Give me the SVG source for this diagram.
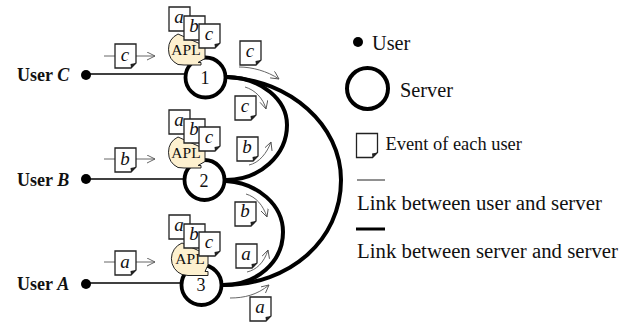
<svg xmlns="http://www.w3.org/2000/svg" xmlns:xlink="http://www.w3.org/1999/xlink" width="632" height="324" viewBox="0 0 632 324">
<style>
text{font-family:"Liberation Serif","Times New Roman",serif;fill:#111}
.thick{fill:none;stroke:#000;stroke-width:4}
.thin{fill:none;stroke:#000;stroke-width:1.6}
.flow{fill:none;stroke:#555;stroke-width:.9}
.srv{fill:#fff;stroke:#000;stroke-width:3.8}
.note{fill:#fff;stroke:#222;stroke-width:1.3}
.ltr{font-size:19px;font-style:italic;text-anchor:middle}
.usr{font-size:18px;font-weight:bold}
.num{font-size:18px;text-anchor:middle}
.apl{fill:#fdf0cf;stroke:#222;stroke-width:1}
.apt{font-size:15.500px;text-anchor:middle}
.leg{font-size:20.300px}
.lnk{font-size:20.800px}
</style>
<defs>
<path id="n" class="note" d="M0 0H21V19L16 24H0Z"/>
<path id="f" fill="#222" d="M21 19L16 24L15.500 20Z"/>
<marker id="ah" markerWidth="10" markerHeight="10" refX="8" refY="4" orient="auto" markerUnits="userSpaceOnUse"><path d="M0 0L8 4L0 8" fill="none" stroke="#555" stroke-width=".9"/></marker>
<g id="note"><use xlink:href="#n"/><use xlink:href="#f"/></g>
</defs>
<g id="connectors">
<path class="thin" d="M90 74H186"/><path class="thin" d="M90 179H184"/><path class="thin" d="M90 283H182"/>
<path class="thick" d="M227 77C262 78 287 100 287 125C287 155 260 180 226 180"/>
<path class="thick" d="M226 181C258 183 283 205 283 232C283 262 257 285 223 285"/>
<path class="thick" d="M227 77C290 80 341 125 341 180C341 240 290 285 223 285"/>
<path class="flow" marker-end="url(#ah)" d="M239 67C252 67 267 71 279 79"/>
<path class="flow" marker-end="url(#ah)" d="M245 87C255 90 263 98 266 109"/>
<path class="flow" marker-end="url(#ah)" d="M249 165C259 163 267 153 271 142"/>
<path class="flow" marker-end="url(#ah)" d="M246 194C256 197 263 205 267 217"/>
<path class="flow" marker-end="url(#ah)" d="M247 272C256 270 264 263 268 250"/>
<path class="flow" marker-end="url(#ah)" d="M230 298C244 298 257 295 269 285"/>
<path class="flow" marker-end="url(#ah)" d="M104 56H155"/>
<path class="flow" marker-end="url(#ah)" d="M104 159H155"/>
<path class="flow" marker-end="url(#ah)" d="M104 262H155"/>
</g>
<g id="userC"><circle cx="86" cy="75" r="5" fill="#000"/><text class="usr" x="17" y="80.500">User <tspan font-style="italic">C</tspan></text></g>
<g id="userB"><circle cx="86" cy="179" r="5" fill="#000"/><text class="usr" x="17" y="186">User <tspan font-style="italic">B</tspan></text></g>
<g id="userA"><circle cx="86" cy="284" r="5" fill="#000"/><text class="usr" x="17" y="290">User <tspan font-style="italic">A</tspan></text></g>
<g id="server1"><circle class="srv" cx="205.500" cy="77.500" r="20"/>
<path class="apl" d="M178 34A17 17 0 0 0 178 64.500L184 65H201V62.500H198L205 58.500V46Z"/>
<text class="apt" x="186" y="54.500">APL</text><text class="num" x="205" y="84">1</text>
<use xlink:href="#note" x="169" y="7"/><use xlink:href="#note" x="184" y="16"/><use xlink:href="#note" x="199" y="24"/>
<text class="ltr" x="179" y="23">a</text><text class="ltr" x="194" y="32">b</text><text class="ltr" x="209" y="40">c</text></g>
<g id="server2"><circle class="srv" cx="204.500" cy="180" r="20"/>
<path class="apl" d="M178 137A17 17 0 0 0 178 167.500L184 168H201V165.500H198L205 161.500V149Z"/>
<text class="apt" x="186" y="157.500">APL</text><text class="num" x="204" y="187">2</text>
<use xlink:href="#note" x="169" y="110"/><use xlink:href="#note" x="184" y="119"/><use xlink:href="#note" x="199" y="127"/>
<text class="ltr" x="179" y="126">a</text><text class="ltr" x="194" y="135">b</text><text class="ltr" x="209" y="143">c</text></g>
<g id="server3"><circle class="srv" cx="201.500" cy="285" r="20"/>
<path class="apl" d="M182 243A17 17 0 0 0 182 274.500L188 275.500H208V271.500H205L208 265V255Z"/>
<text class="apt" x="190" y="263.500">APL</text><text class="num" x="201" y="291">3</text>
<use xlink:href="#note" x="169" y="215"/><use xlink:href="#note" x="184" y="224"/><use xlink:href="#note" x="199" y="232"/>
<text class="ltr" x="179" y="231">a</text><text class="ltr" x="194" y="240">b</text><text class="ltr" x="209" y="248">c</text></g>
<g id="events">
<use xlink:href="#note" x="115" y="44"/><text class="ltr" x="125" y="60.500">c</text>
<use xlink:href="#note" x="115" y="148"/><text class="ltr" x="125" y="164.500">b</text>
<use xlink:href="#note" x="115" y="251"/><text class="ltr" x="125" y="267.500">a</text>
<use xlink:href="#note" x="240" y="41"/><text class="ltr" x="250" y="57">c</text>
<use xlink:href="#note" x="235" y="96"/><text class="ltr" x="245" y="112">c</text>
<use xlink:href="#note" x="237" y="137"/><text class="ltr" x="247" y="153">b</text>
<use xlink:href="#note" x="235" y="202"/><text class="ltr" x="245" y="217">b</text>
<use xlink:href="#note" x="236" y="244"/><text class="ltr" x="246" y="260">a</text>
<use xlink:href="#note" x="250" y="297"/><text class="ltr" x="260" y="313">a</text>
</g>
<g id="legend">
<circle cx="358" cy="42" r="5" fill="#000"/><text class="leg" x="372" y="50">User</text>
<circle cx="367.500" cy="88.500" r="20.500" fill="none" stroke="#000" stroke-width="4"/><text class="leg" x="400" y="97">Server</text>
<use xlink:href="#note" x="356.500" y="133.500"/><text x="385.500" y="150" font-size="18.400">Event of each user</text>
<path d="M357 180H385" stroke="#222" stroke-width="1"/><text class="lnk" x="357" y="210">Link between user and server</text>
<path d="M356 229H385" stroke="#000" stroke-width="3"/><text class="lnk" x="357" y="258">Link between server and server</text>
</g>
</svg>
